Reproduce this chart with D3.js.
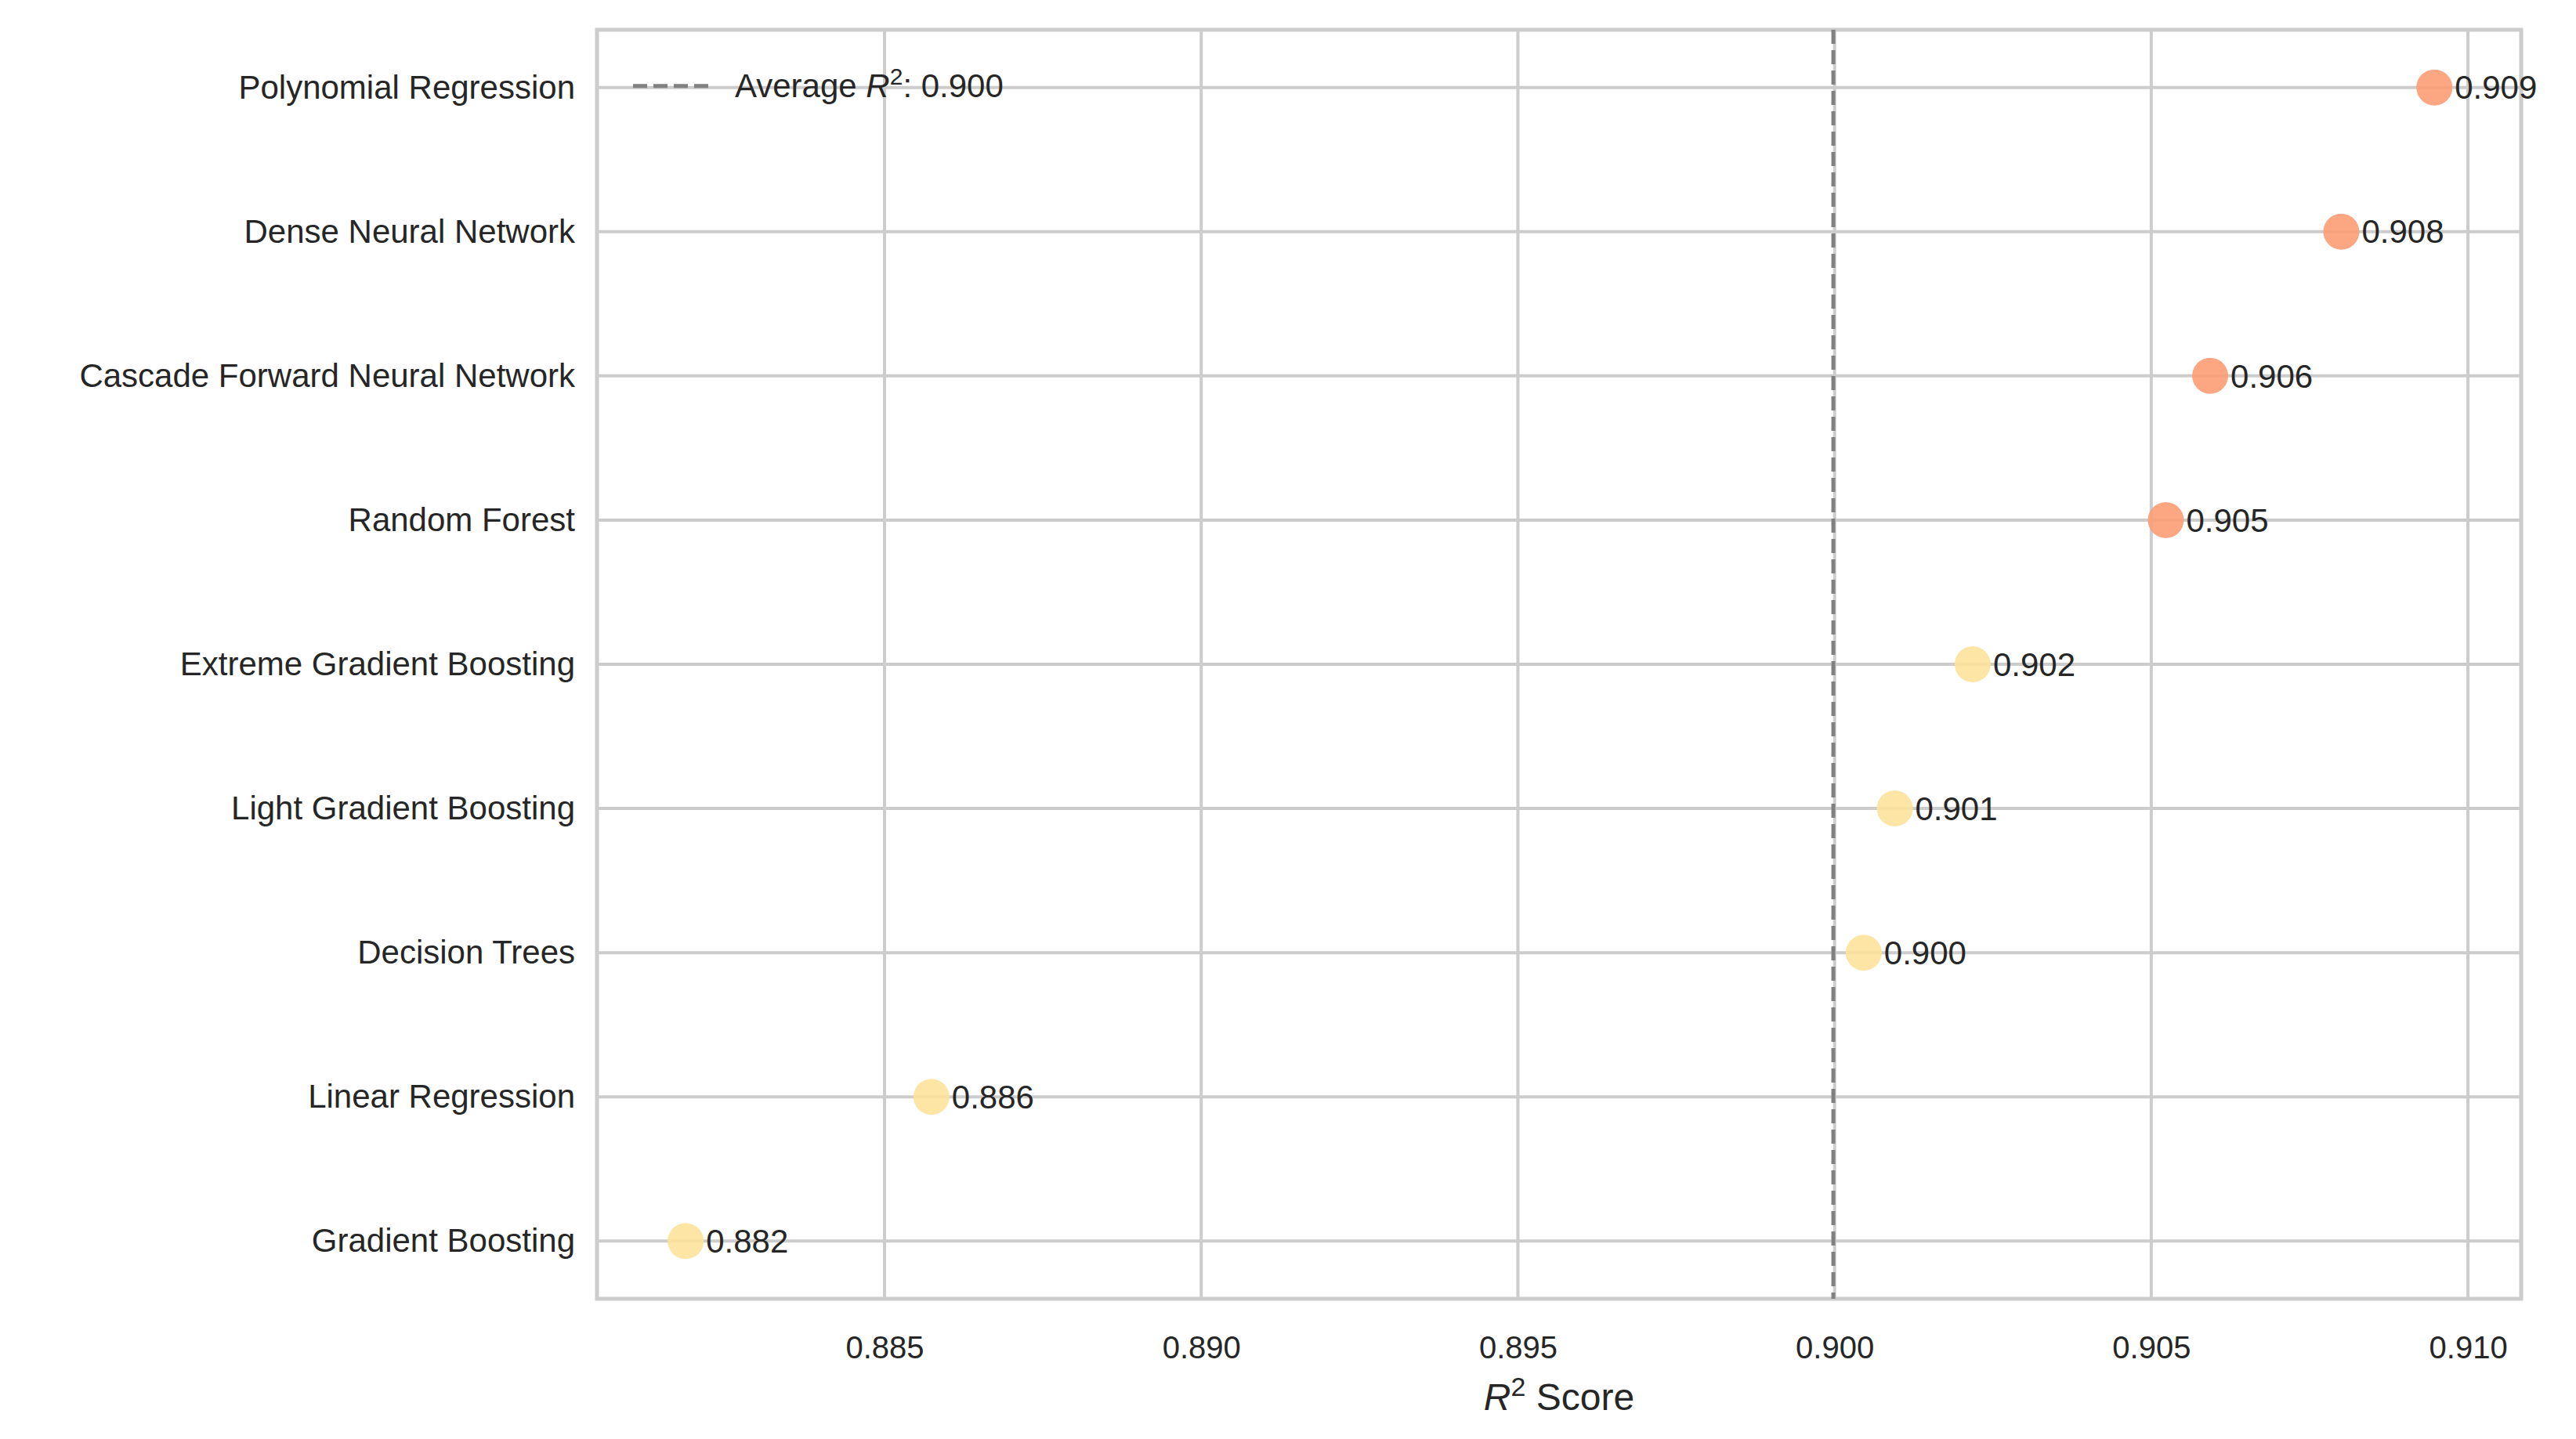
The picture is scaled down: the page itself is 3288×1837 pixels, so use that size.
<!DOCTYPE html>
<html>
<head>
<meta charset="utf-8">
<script src="https://cdn.jsdelivr.net/npm/d3@7"></script>
<style>
  body { margin: 0; background: #fff; }
  text { font-family: "Liberation Sans", Arial, sans-serif; fill: #262626; }
</style>
</head>
<body>
<div id="chart"></div>
<script>
const models = ['Polynomial Regression', 'Dense Neural Network', 'Cascade Forward Neural Network',
  'Random Forest', 'Extreme Gradient Boosting', 'Light Gradient Boosting', 'Decision Trees',
  'Linear Regression', 'Gradient Boosting'];
const r2 = [0.90947, 0.9080, 0.90593, 0.90523, 0.90218, 0.90095, 0.90046, 0.88574, 0.88186];
const dotColors = ['#fc9c74', '#fc9c74', '#fc9c74', '#fc9c74', '#fde29b', '#fde29b', '#fde29b', '#fde29b', '#fde29b'];
const xTicks = [0.885, 0.890, 0.895, 0.900, 0.905, 0.910];

const width = 3288, height = 1837;
const margin = { top: 38, right: 70, bottom: 179, left: 762 };
const avg = d3.mean(r2);

const svg = d3.select('#chart').append('svg')
  .attr('width', width).attr('height', height);

const x = d3.scaleLinear()
  .domain([0.88046, 0.91084])
  .range([margin.left, width - margin.right]);

const y = d3.scaleLinear()
  .domain([-0.4, models.length - 1 + 0.4])
  .range([margin.top, height - margin.bottom]);

// grid
svg.append('g')
  .selectAll('line.v')
  .data(xTicks)
  .join('line')
    .attr('x1', d => x(d)).attr('x2', d => x(d))
    .attr('y1', margin.top).attr('y2', height - margin.bottom)
    .attr('stroke', '#cccccc').attr('stroke-width', 4);

svg.append('g')
  .selectAll('line.h')
  .data(models)
  .join('line')
    .attr('x1', margin.left).attr('x2', width - margin.right)
    .attr('y1', (d, i) => y(i)).attr('y2', (d, i) => y(i))
    .attr('stroke', '#cccccc').attr('stroke-width', 4);

// frame
svg.append('rect')
  .attr('x', margin.left).attr('y', margin.top)
  .attr('width', width - margin.left - margin.right)
  .attr('height', height - margin.top - margin.bottom)
  .attr('fill', 'none').attr('stroke', '#cccccc').attr('stroke-width', 5);

// axes (text only, seaborn whitegrid style)
const xAxis = svg.append('g')
  .attr('transform', `translate(0,${height - margin.bottom})`)
  .call(d3.axisBottom(x).tickValues(xTicks).tickFormat(d3.format('.3f')).tickSize(0).tickPadding(48));
xAxis.select('.domain').remove();
xAxis.selectAll('text').attr('font-size', 40).attr('fill', '#262626')
  .style('font-family', '"Liberation Sans", Arial, sans-serif');

const yAxis = svg.append('g')
  .attr('transform', `translate(${margin.left},0)`)
  .call(d3.axisLeft(y).tickValues(d3.range(models.length)).tickFormat(i => models[i]).tickSize(0).tickPadding(28));
yAxis.select('.domain').remove();
yAxis.selectAll('text').attr('font-size', 42).attr('fill', '#262626')
  .style('font-family', '"Liberation Sans", Arial, sans-serif');

// x label
const xl = svg.append('text')
  .attr('x', (margin.left + width - margin.right) / 2)
  .attr('y', 1800)
  .attr('text-anchor', 'middle')
  .attr('font-size', 48);
xl.append('tspan').attr('font-style', 'italic').text('R');
xl.append('tspan').attr('dy', -18).attr('font-size', 34).text('2');
xl.append('tspan').attr('dy', 18).text(' Score');

// average line
svg.append('line')
  .attr('x1', x(avg)).attr('x2', x(avg))
  .attr('y1', margin.top).attr('y2', height - margin.bottom)
  .attr('stroke', '#808080').attr('stroke-width', 5)
  .attr('stroke-dasharray', '18,8');

// dots
svg.append('g')
  .selectAll('circle')
  .data(r2)
  .join('circle')
    .attr('cx', d => x(d))
    .attr('cy', (d, i) => y(i))
    .attr('r', 23)
    .attr('fill', (d, i) => dotColors[i])
    .attr('fill-opacity', 0.9);

svg.append('g')
  .selectAll('text')
  .data(r2)
  .join('text')
    .attr('x', d => x(d) + 26)
    .attr('y', (d, i) => y(i))
    .attr('dy', '0.35em')
    .attr('font-size', 42)
    .text(d => d3.format('.3f')(d));

// legend
const lg = svg.append('g').attr('transform', `translate(808,${y(0) - 2})`);
lg.append('line')
  .attr('x1', 0).attr('x2', 98).attr('y1', 0).attr('y2', 0)
  .attr('stroke', '#808080').attr('stroke-width', 5)
  .attr('stroke-dasharray', '18,8');
const lt = lg.append('text').attr('x', 130).attr('dy', '0.35em').attr('font-size', 42);
lt.append('tspan').text('Average ');
lt.append('tspan').attr('font-style', 'italic').text('R');
lt.append('tspan').attr('dy', -16).attr('font-size', 30).text('2');
lt.append('tspan').attr('dy', 16).text(': ' + d3.format('.3f')(avg));
</script>
</body>
</html>
